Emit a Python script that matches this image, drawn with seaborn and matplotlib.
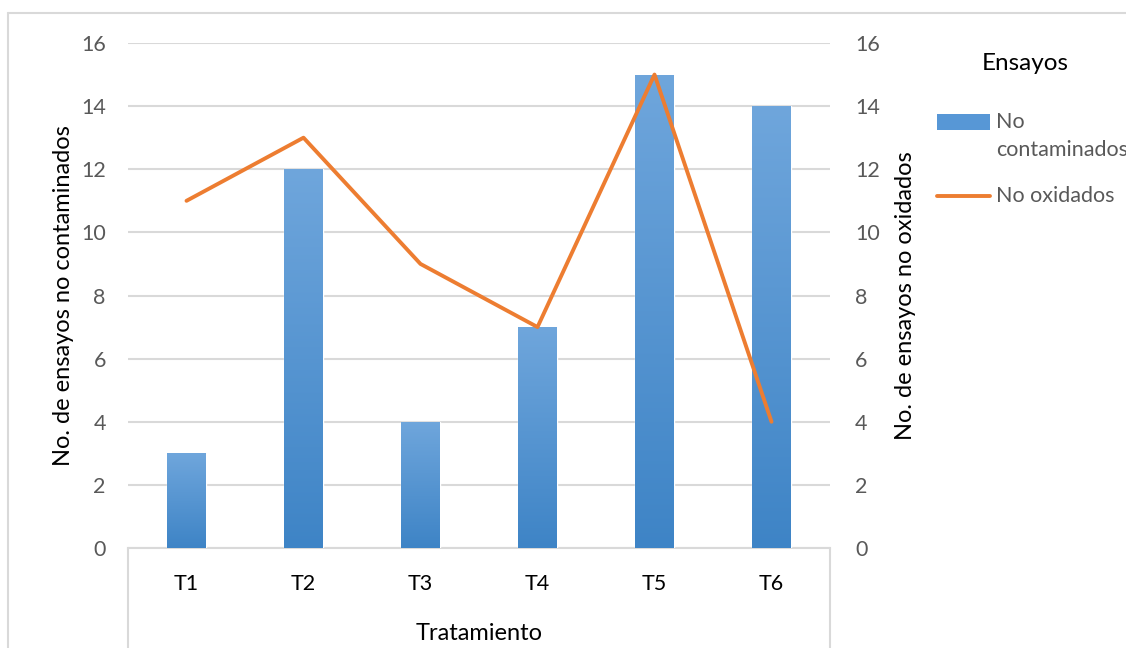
import numpy as np
import pandas as pd
import matplotlib
matplotlib.use("Agg")
import matplotlib.pyplot as plt
import seaborn as sns
from matplotlib.lines import Line2D
from matplotlib.patches import Rectangle
from matplotlib.colors import LinearSegmentedColormap

categories = ["T1", "T2", "T3", "T4", "T5", "T6"]
no_contaminados = [3, 12, 4, 7, 15, 14]
no_oxidados = [11, 13, 9, 7, 15, 4]
y_ticks = [0, 2, 4, 6, 8, 10, 12, 14, 16]

sns.set_theme(style="white")
plt.rcParams["font.family"] = ["Lato", "DejaVu Sans"]

GRID = "#D9D9D9"
TICK = "#595959"
BAR_TOP = "#6FA6DC"
BAR_BOTTOM = "#3E84C6"
LINE = "#ED7D31"
TICK_FS = 15.5
TITLE_FS = 17

df = pd.DataFrame({"Tratamiento": categories,
                   "No contaminados": no_contaminados,
                   "No oxidados": no_oxidados})

W, H = 1126, 648
fig = plt.figure(figsize=(W / 100, H / 100), dpi=100)
ax = fig.add_axes([128 / W, 1 - 548 / H, 702 / W, 505 / H])

sns.barplot(data=df, x="Tratamiento", y="No contaminados", ax=ax,
            color=BAR_BOTTOM, width=0.33, saturation=1, zorder=3)

# vertical gradient fill for each bar
grad = LinearSegmentedColormap.from_list("bar", [BAR_BOTTOM, BAR_TOP])
for bar in list(ax.patches):
    x0, y0 = bar.get_x(), bar.get_y()
    w, h = bar.get_width(), bar.get_height()
    img = ax.imshow(np.linspace(0, 1, 256).reshape(-1, 1), cmap=grad,
                    extent=[x0, x0 + w, y0, y0 + h], origin="lower",
                    aspect="auto", zorder=3.5)
    img.set_clip_path(bar)
    # soft shadow
    ax.add_patch(Rectangle((x0 + 0.01, y0), w, h, facecolor="#000000",
                           alpha=0.08, edgecolor="none", zorder=2.9))

ax.set_xlim(-0.5, 5.5)
ax.set_ylim(0, 16)
ax.set_yticks(y_ticks)
ax.yaxis.grid(True, color=GRID, linewidth=1.5, zorder=0)
ax.set_axisbelow(True)
for s in ["top", "left", "right"]:
    ax.spines[s].set_visible(False)
ax.spines["bottom"].set_color(GRID)
ax.spines["bottom"].set_linewidth(1.5)
ax.tick_params(axis="y", length=0, labelsize=TICK_FS, labelcolor=TICK, pad=16)
ax.tick_params(axis="x", length=0, labelsize=TICK_FS, labelcolor="#000000", pad=19)
ax.set_xlabel("")
ax.set_ylabel("No. de ensayos no contaminados", fontsize=TITLE_FS,
              color="#000000", labelpad=5)

ax2 = ax.twinx()
sns.lineplot(x=np.arange(len(categories)), y=no_oxidados, ax=ax2,
             color=LINE, linewidth=2.8, zorder=5)
ax2.set_ylim(0, 16)
ax2.set_yticks(y_ticks)
for s in ax2.spines.values():
    s.set_visible(False)
ax2.tick_params(axis="y", length=0, labelsize=TICK_FS, labelcolor=TICK, pad=18)
ax2.set_ylabel("No. de ensayos no oxidados", fontsize=TITLE_FS,
               color="#000000", labelpad=11)

fig.text(479 / W, 1 - 634 / H, "Tratamiento", ha="center", va="center",
         fontsize=TITLE_FS, color="#000000")

# chart frame and category box
def fline(xs, ys):
    fig.add_artist(Line2D([x / W for x in xs], [1 - y / H for y in ys],
                          color=GRID, lw=1.5, transform=fig.transFigure))

fline([8, 8], [13, H])
fline([8, W], [13, 13])
fline([128, 128], [548, H])
fline([830, 830], [548, H])

# legend
fig.text(1025 / W, 1 - 64 / H, "Ensayos", ha="center", va="center",
         fontsize=17.5, color="#000000")
fig.add_artist(Rectangle((937 / W, 1 - 130 / H), 53 / W, 16 / H,
                         transform=fig.transFigure, facecolor="#5797D6",
                         edgecolor="none"))
fig.text(996 / W, 1 - 122 / H, "No", ha="left", va="center",
         fontsize=TICK_FS, color=TICK)
fig.text(996 / W, 1 - 150 / H, "contaminados", ha="left", va="center",
         fontsize=TICK_FS, color=TICK)
fig.add_artist(Line2D([937 / W, 990 / W], [1 - 196 / H, 1 - 196 / H],
                      color=LINE, lw=2.8, solid_capstyle="round",
                      transform=fig.transFigure))
fig.text(996 / W, 1 - 196 / H, "No oxidados", ha="left", va="center",
         fontsize=TICK_FS, color=TICK)

fig.savefig("out.png", dpi=100)
